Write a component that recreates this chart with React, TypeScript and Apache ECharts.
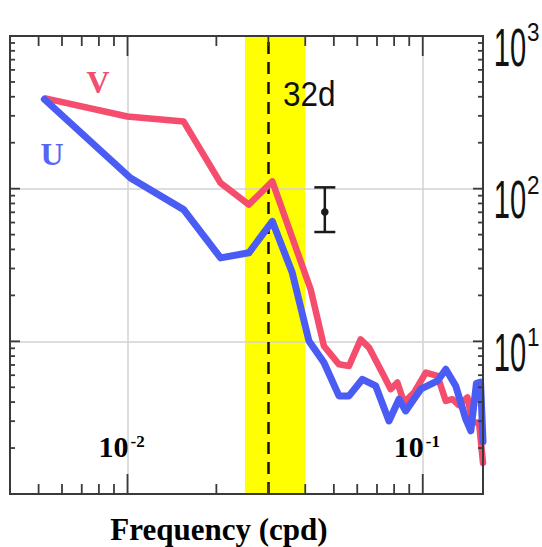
import React, { useEffect, useRef } from "react";
import * as echarts from "echarts";

// ---- data ----
const X_MIN = 0.004;
const X_MAX = 0.16;
const Y_MIN = 1;
const Y_MAX = 1000;

const uFreq = [0.00523, 0.01024, 0.0155, 0.02067, 0.02578, 0.03094, 0.03616, 0.04117, 0.04627, 0.05203, 0.05627, 0.06246, 0.06931, 0.07686, 0.08311, 0.08758, 0.09845, 0.1122, 0.1197, 0.1294, 0.1399, 0.1455, 0.152, 0.157, 0.16];
const uPower = [385, 117.5, 72.9, 35.2, 38.0, 61.1, 28.1, 10.05, 7.26, 4.39, 4.39, 5.64, 5.1, 3.01, 4.18, 3.5, 4.86, 5.5, 6.56, 5.1, 3.09, 2.59, 5.3, 5.4, 2.2];

const vFreq = [0.00527, 0.00999, 0.0155, 0.02065, 0.02576, 0.03094, 0.04172, 0.04627, 0.05203, 0.05627, 0.06163, 0.06577, 0.0739, 0.0779, 0.08206, 0.08643, 0.09344, 0.1024, 0.1122, 0.1197, 0.1261, 0.1324, 0.1417, 0.1474, 0.1551, 0.16];
const vPower = [390, 297, 275, 109, 78.6, 111.6, 21.9, 9.32, 7.07, 6.9, 10.3, 9.1, 5.93, 4.86, 5.37, 3.97, 4.62, 6.24, 5.93, 4.07, 4.18, 3.82, 4.29, 2.94, 2.94, 1.6];

const bandStart = 0.025;
const bandEnd = 0.04;
const periodLine = 1 / 32;
const periodLabel = "32d";

const errFreq = [0.0466];
const errLow = [52];
const errHigh = [102];
const errMid = [70.4];

const xMajorTicks = [0.01, 0.1];
const xMinorTicks = [0.005, 0.006, 0.007, 0.008, 0.009, 0.02, 0.03, 0.04, 0.05, 0.06, 0.07, 0.08, 0.09];
const yMajorTicks = [10, 100];
const yMinorTicks = [2, 3, 4, 5, 6, 7, 8, 9, 20, 30, 40, 50, 60, 70, 80, 90, 200, 300, 400, 500, 600, 700, 800, 900];

const xLabelValues = [0.01, 0.1];
const xLabelExps = ["-2", "-1"];
const yLabelValues = [1000, 100, 10];
const yLabelExps = ["3", "2", "1"];

const xTitle = "Frequency (cpd)";
const uName = "U";
const vName = "V";

const RED = "#f44d6d";
const BLUE = "#4a5cf4";
const FRAME = "#3a3a3a";

export default function App() {
  const ref = useRef<HTMLDivElement>(null);

  useEffect(() => {
    const el = ref.current!;
    const chart = echarts.init(el, null, { renderer: "svg" });

    const axisCommon = {
      type: "log",
      logBase: 10,
      z: 3,
      axisLine: { show: false },
      axisTick: { show: false },
      axisLabel: { show: false },
      splitLine: { show: true, lineStyle: { color: "#d2d2d2", width: 1.5 } },
    };

    const option: any = {
      animation: false,
      backgroundColor: "#ffffff",
      grid: {
        left: 10,
        right: 59,
        top: 36,
        bottom: 53,
        show: true,
        borderColor: FRAME,
        borderWidth: 2,
        backgroundColor: "transparent",
        z: 10,
      },
      xAxis: { ...axisCommon, min: X_MIN, max: X_MAX },
      yAxis: { ...axisCommon, min: Y_MIN, max: Y_MAX },
      series: [
        {
          type: "line",
          name: "band",
          z: 1,
          data: [[bandStart, 10]],
          symbol: "none",
          lineStyle: { opacity: 0 },
          silent: true,
          markArea: {
            silent: true,
            itemStyle: { color: "#ffff00", opacity: 1 },
            data: [[{ xAxis: bandStart }, { xAxis: bandEnd }]],
          },
        },
        {
          type: "line",
          name: "period",
          z: 4,
          data: [[periodLine, 10]],
          symbol: "none",
          lineStyle: { opacity: 0 },
          silent: true,
          markLine: {
            silent: true,
            symbol: ["none", "none"],
            label: { show: false },
            lineStyle: { color: "#111111", width: 2.5, type: [12, 8] },
            data: [{ xAxis: periodLine }],
          },
        },
        {
          type: "line",
          name: vName,
          z: 5,
          data: vFreq.map((f, i) => [f, vPower[i]]),
          symbol: "none",
          lineStyle: { color: RED, width: 6.5, join: "round", cap: "round" },
        },
        {
          type: "line",
          name: uName,
          z: 6,
          data: uFreq.map((f, i) => [f, uPower[i]]),
          symbol: "none",
          lineStyle: { color: BLUE, width: 7, join: "round", cap: "round" },
        },
        {
          type: "custom",
          name: "errorbar",
          z: 7,
          silent: true,
          data: errFreq.map((f, i) => [f, errLow[i], errHigh[i], errMid[i]]),
          encode: { x: 0, y: [1, 2, 3] },
          renderItem: (params: any, api: any) => {
            const x = api.value(0);
            const lo = api.coord([x, api.value(1)]);
            const hi = api.coord([x, api.value(2)]);
            const mid = api.coord([x, api.value(3)]);
            const hw = 10.5;
            const style = { stroke: "#1a1a1a", lineWidth: 2.5 };
            return {
              type: "group",
              children: [
                { type: "line", shape: { x1: lo[0], y1: lo[1], x2: hi[0], y2: hi[1] }, style },
                { type: "line", shape: { x1: hi[0] - hw, y1: hi[1], x2: hi[0] + hw, y2: hi[1] }, style },
                { type: "line", shape: { x1: lo[0] - hw, y1: lo[1], x2: lo[0] + hw, y2: lo[1] }, style },
                { type: "circle", shape: { cx: mid[0], cy: mid[1], r: 3.8 }, style: { fill: "#1a1a1a" } },
              ],
            };
          },
        },
      ],
    };

    chart.setOption(option);

    const toPx = (x: number, y: number) => chart.convertToPixel({ gridIndex: 0 }, [x, y]) as number[];
    const graphics: any[] = [];
    const Z = 100;

    // frame ticks, placed through the axes' own scales
    const corner0 = toPx(X_MIN, Y_MIN);
    const corner1 = toPx(X_MAX, Y_MAX);
    const gl = corner0[0], gb = corner0[1], gr = corner1[0], gt = corner1[1];
    const tickStyle = { stroke: FRAME, lineWidth: 1.8 };
    const addXTicks = (vals: number[], len: number) =>
      vals.forEach((v) => {
        const x = toPx(v, 10)[0];
        graphics.push({ type: "line", z: 90, shape: { x1: x, y1: gb, x2: x, y2: gb - len }, style: tickStyle });
        graphics.push({ type: "line", z: 90, shape: { x1: x, y1: gt, x2: x, y2: gt + len }, style: tickStyle });
      });
    const addYTicks = (vals: number[], len: number) =>
      vals.forEach((v) => {
        const y = toPx(0.01, v)[1];
        graphics.push({ type: "line", z: 90, shape: { x1: gl, y1: y, x2: gl + len, y2: y }, style: tickStyle });
        graphics.push({ type: "line", z: 90, shape: { x1: gr, y1: y, x2: gr - len, y2: y }, style: tickStyle });
      });
    addXTicks(xMinorTicks, 10);
    addXTicks(xMajorTicks, 20);
    addYTicks(yMinorTicks, 5);
    addYTicks(yMajorTicks, 10);

    yLabelValues.forEach((v, i) => {
      const p = toPx(X_MAX, v);
      const cy = p[1] + 11;
      graphics.push({
        type: "text",
        z: Z,
        x: p[0] + 10.8,
        y: cy,
        scaleX: 0.54,
        style: { text: "10", fontFamily: "Liberation Sans", fontSize: 54, fill: "#111", textAlign: "left", textVerticalAlign: "middle" },
      });
      graphics.push({
        type: "text",
        z: Z,
        x: p[0] + 44,
        y: cy - 15,
        scaleX: 0.9,
        style: { text: yLabelExps[i], fontFamily: "Liberation Sans", fontSize: 25, fill: "#111", textAlign: "left", textVerticalAlign: "middle" },
      });
    });

    xLabelValues.forEach((v, i) => {
      const p = toPx(v, Y_MIN);
      graphics.push({
        type: "text",
        z: Z,
        x: p[0] + 1,
        y: p[1] - 47.5,
        style: { text: "10", fontFamily: "Liberation Serif", fontWeight: "bold", fontSize: 30, fill: "#000", textAlign: "right", textVerticalAlign: "middle" },
      });
      graphics.push({
        type: "text",
        z: Z,
        x: p[0] + 3,
        y: p[1] - 53,
        style: { text: xLabelExps[i], fontFamily: "Liberation Serif", fontWeight: "bold", fontSize: 17, fill: "#000", textAlign: "left", textVerticalAlign: "middle" },
      });
    });

    graphics.push({
      type: "text",
      z: Z,
      x: 98,
      y: 82,
      style: { text: vName, fontFamily: "Liberation Serif", fontWeight: "bold", fontSize: 32, fill: RED, textAlign: "center", textVerticalAlign: "middle" },
    });
    graphics.push({
      type: "text",
      z: Z,
      x: 52,
      y: 154,
      style: { text: uName, fontFamily: "Liberation Serif", fontWeight: "bold", fontSize: 32, fill: "#5566f2", textAlign: "center", textVerticalAlign: "middle" },
    });

    graphics.push({
      type: "text",
      z: Z,
      x: 283,
      y: 94,
      scaleX: 0.9,
      style: { text: periodLabel, fontFamily: "Liberation Sans", fontSize: 35, fill: "#111", textAlign: "left", textVerticalAlign: "middle" },
    });

    graphics.push({
      type: "text",
      z: Z,
      x: 219,
      y: 529,
      style: { text: xTitle, fontFamily: "Liberation Serif", fontWeight: "bold", fontSize: 31, fill: "#000", textAlign: "center", textVerticalAlign: "middle" },
    });

    chart.setOption({ graphic: graphics });

    return () => {
      chart.dispose();
    };
  }, []);

  return (
    <div
      ref={ref}
      style={{ position: "absolute", left: 0, top: 0, width: 542, height: 547, background: "#fff" }}
    />
  );
}
